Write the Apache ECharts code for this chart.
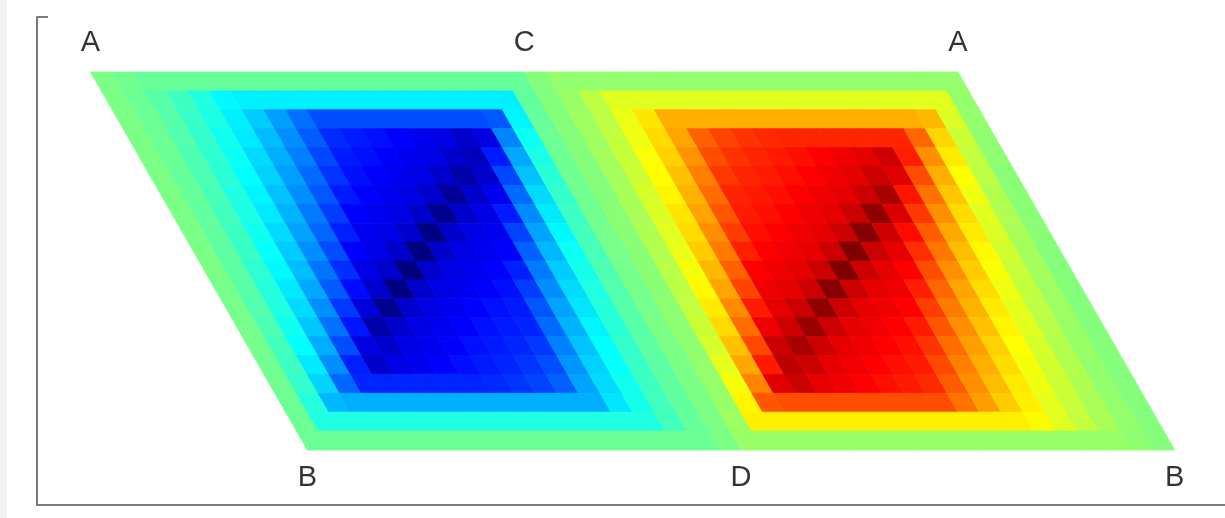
<!DOCTYPE html>
<html>
<head>
<meta charset="utf-8">
<script src="https://cdn.jsdelivr.net/npm/echarts@6/dist/echarts.min.js"></script>
<style>
html,body{margin:0;padding:0;background:#fff;}
#chart{width:1225px;height:518px;}
</style>
</head>
<body>
<div id="chart"></div>
<script>
// lattice cells per rhombus side (u along top edge, v along slanted edge)
const cellsPerSide = 20;
// vertex labels
const topLabels = ['A', 'C', 'A'];
const bottomLabels = ['B', 'D', 'B'];
// left rhombus values, rows = v index (top to bottom), cols = u index (left to right)
const leftValues = [
[-0.01,-0.03,-0.05,-0.05,-0.05,-0.05,-0.05,-0.05,-0.05,-0.05,-0.05,-0.05,-0.05,-0.05,-0.05,-0.05,-0.05,-0.05,-0.05,-0.05],
[-0.01,-0.04,-0.08,-0.13,-0.19,-0.26,-0.28,-0.28,-0.28,-0.28,-0.28,-0.28,-0.28,-0.28,-0.28,-0.28,-0.28,-0.28,-0.28,-0.06],
[-0.01,-0.04,-0.08,-0.14,-0.20,-0.28,-0.35,-0.44,-0.53,-0.60,-0.60,-0.60,-0.60,-0.60,-0.60,-0.60,-0.60,-0.58,-0.27,-0.05],
[-0.01,-0.04,-0.09,-0.15,-0.22,-0.29,-0.38,-0.47,-0.57,-0.67,-0.70,-0.72,-0.75,-0.78,-0.80,-0.85,-0.81,-0.49,-0.23,-0.04],
[-0.01,-0.04,-0.10,-0.16,-0.23,-0.32,-0.41,-0.50,-0.61,-0.70,-0.72,-0.75,-0.78,-0.80,-0.85,-0.88,-0.70,-0.42,-0.20,-0.04],
[-0.01,-0.05,-0.10,-0.17,-0.25,-0.34,-0.44,-0.54,-0.65,-0.72,-0.75,-0.78,-0.80,-0.85,-0.92,-0.85,-0.61,-0.37,-0.17,-0.03],
[-0.01,-0.05,-0.11,-0.19,-0.27,-0.37,-0.47,-0.58,-0.70,-0.75,-0.78,-0.80,-0.85,-0.95,-0.85,-0.78,-0.54,-0.32,-0.15,-0.03],
[-0.01,-0.06,-0.12,-0.20,-0.29,-0.40,-0.51,-0.63,-0.75,-0.78,-0.80,-0.85,-0.97,-0.85,-0.80,-0.70,-0.48,-0.29,-0.13,-0.03],
[-0.01,-0.06,-0.13,-0.22,-0.32,-0.43,-0.55,-0.69,-0.78,-0.80,-0.85,-0.99,-0.85,-0.80,-0.78,-0.62,-0.43,-0.26,-0.12,-0.02],
[-0.01,-0.07,-0.14,-0.24,-0.35,-0.47,-0.60,-0.75,-0.80,-0.85,-1.00,-0.85,-0.80,-0.78,-0.75,-0.56,-0.39,-0.23,-0.11,-0.02],
[-0.01,-0.07,-0.16,-0.26,-0.38,-0.52,-0.66,-0.80,-0.85,-1.00,-0.85,-0.80,-0.78,-0.75,-0.69,-0.51,-0.35,-0.21,-0.10,-0.02],
[-0.02,-0.08,-0.18,-0.29,-0.42,-0.57,-0.73,-0.85,-0.99,-0.85,-0.80,-0.78,-0.75,-0.72,-0.63,-0.47,-0.32,-0.19,-0.09,-0.02],
[-0.02,-0.09,-0.19,-0.32,-0.47,-0.64,-0.82,-0.97,-0.85,-0.80,-0.78,-0.75,-0.72,-0.70,-0.58,-0.43,-0.30,-0.18,-0.08,-0.02],
[-0.02,-0.10,-0.22,-0.36,-0.53,-0.71,-0.92,-0.85,-0.80,-0.78,-0.75,-0.72,-0.70,-0.68,-0.54,-0.40,-0.27,-0.17,-0.08,-0.01],
[-0.02,-0.12,-0.25,-0.41,-0.60,-0.81,-0.85,-0.80,-0.78,-0.75,-0.72,-0.70,-0.68,-0.64,-0.50,-0.37,-0.25,-0.15,-0.07,-0.01],
[-0.03,-0.13,-0.29,-0.47,-0.69,-0.85,-0.80,-0.78,-0.75,-0.72,-0.70,-0.68,-0.65,-0.60,-0.46,-0.34,-0.24,-0.14,-0.07,-0.01],
[-0.03,-0.15,-0.33,-0.55,-0.68,-0.68,-0.68,-0.68,-0.68,-0.68,-0.67,-0.65,-0.62,-0.56,-0.43,-0.32,-0.22,-0.13,-0.06,-0.01],
[-0.04,-0.18,-0.39,-0.41,-0.41,-0.41,-0.41,-0.41,-0.41,-0.41,-0.41,-0.41,-0.41,-0.41,-0.41,-0.30,-0.21,-0.12,-0.06,-0.01],
[-0.04,-0.19,-0.19,-0.19,-0.19,-0.19,-0.19,-0.19,-0.19,-0.19,-0.19,-0.19,-0.19,-0.19,-0.19,-0.19,-0.19,-0.12,-0.05,-0.01],
[-0.04,-0.04,-0.04,-0.04,-0.04,-0.04,-0.04,-0.04,-0.04,-0.04,-0.04,-0.04,-0.04,-0.04,-0.04,-0.04,-0.04,-0.04,-0.04,-0.01]
];
// right rhombus values
const rightValues = [
[0.01,0.04,0.04,0.04,0.04,0.04,0.04,0.04,0.04,0.04,0.04,0.04,0.04,0.04,0.04,0.04,0.04,0.04,0.04,0.04],
[0.01,0.05,0.12,0.19,0.19,0.19,0.19,0.19,0.19,0.19,0.19,0.19,0.19,0.19,0.19,0.19,0.19,0.19,0.19,0.04],
[0.01,0.06,0.12,0.21,0.30,0.41,0.41,0.41,0.41,0.41,0.41,0.41,0.41,0.41,0.41,0.41,0.41,0.39,0.18,0.04],
[0.01,0.06,0.13,0.22,0.32,0.43,0.56,0.62,0.65,0.67,0.68,0.68,0.68,0.68,0.68,0.68,0.55,0.33,0.15,0.03],
[0.01,0.07,0.14,0.24,0.34,0.46,0.60,0.65,0.68,0.70,0.72,0.75,0.78,0.80,0.85,0.69,0.47,0.29,0.13,0.03],
[0.01,0.07,0.15,0.25,0.37,0.50,0.64,0.68,0.70,0.72,0.75,0.78,0.80,0.85,0.81,0.60,0.41,0.25,0.12,0.02],
[0.01,0.08,0.17,0.27,0.40,0.54,0.68,0.70,0.72,0.75,0.78,0.80,0.85,0.92,0.71,0.53,0.36,0.22,0.10,0.02],
[0.02,0.08,0.18,0.30,0.43,0.58,0.70,0.72,0.75,0.78,0.80,0.85,0.97,0.82,0.64,0.47,0.32,0.19,0.09,0.02],
[0.02,0.09,0.19,0.32,0.47,0.63,0.72,0.75,0.78,0.80,0.85,0.99,0.85,0.73,0.57,0.42,0.29,0.18,0.08,0.02],
[0.02,0.10,0.21,0.35,0.51,0.69,0.75,0.78,0.80,0.85,1.00,0.85,0.80,0.66,0.52,0.38,0.26,0.16,0.07,0.01],
[0.02,0.11,0.23,0.39,0.56,0.75,0.78,0.80,0.85,1.00,0.85,0.80,0.75,0.60,0.47,0.35,0.24,0.14,0.07,0.01],
[0.02,0.12,0.26,0.43,0.62,0.78,0.80,0.85,0.99,0.85,0.80,0.78,0.69,0.55,0.43,0.32,0.22,0.13,0.06,0.01],
[0.03,0.13,0.29,0.48,0.70,0.80,0.85,0.97,0.85,0.80,0.78,0.75,0.63,0.51,0.40,0.29,0.20,0.12,0.06,0.01],
[0.03,0.15,0.32,0.54,0.78,0.85,0.95,0.85,0.80,0.78,0.75,0.70,0.58,0.47,0.37,0.27,0.19,0.11,0.05,0.01],
[0.03,0.17,0.37,0.61,0.85,0.92,0.85,0.80,0.78,0.75,0.72,0.65,0.54,0.44,0.34,0.25,0.17,0.10,0.05,0.01],
[0.04,0.20,0.42,0.70,0.88,0.85,0.80,0.78,0.75,0.72,0.70,0.61,0.50,0.41,0.32,0.23,0.16,0.10,0.04,0.01],
[0.04,0.23,0.49,0.81,0.85,0.80,0.78,0.75,0.72,0.70,0.67,0.57,0.47,0.38,0.29,0.22,0.15,0.09,0.04,0.01],
[0.05,0.27,0.58,0.60,0.60,0.60,0.60,0.60,0.60,0.60,0.60,0.53,0.44,0.35,0.28,0.20,0.14,0.08,0.04,0.01],
[0.06,0.28,0.28,0.28,0.28,0.28,0.28,0.28,0.28,0.28,0.28,0.28,0.28,0.28,0.26,0.19,0.13,0.08,0.04,0.01],
[0.05,0.05,0.05,0.05,0.05,0.05,0.05,0.05,0.05,0.05,0.05,0.05,0.05,0.05,0.05,0.05,0.05,0.05,0.03,0.01]
];
// jet colormap stops
const jetColors = ['#000080','#0000ff','#0080ff','#00ffff','#80ff80','#ffff00','#ff8000','#ff0000','#800000'];

// build cells: [xCenter, yCenter, value, uIndex, vIndex] in skewed lattice coordinates
const cells = [];
[leftValues, rightValues].forEach(function (block, b) {
  block.forEach(function (row, j) {
    row.forEach(function (val, i) {
      const ui = i + b * cellsPerSide;
      const u = (ui + 0.5) / cellsPerSide, v = (j + 0.5) / cellsPerSide;
      cells.push([u + 0.5 * v, v, val, ui, j]);
    });
  });
});
const labelData = [];
topLabels.forEach(function (t, k) { labelData.push({ name: t, value: [k, 0], label: { offset: [0, -29] } }); });
bottomLabels.forEach(function (t, k) { labelData.push({ name: t, value: [k + 0.5, 1], label: { offset: [0, 28] } }); });

function renderCell(params, api) {
  const ui = api.value(3), vj = api.value(4);
  const u0 = ui / cellsPerSide, u1 = (ui + 1) / cellsPerSide;
  const v0 = vj / cellsPerSide, v1 = (vj + 1) / cellsPerSide;
  const P = function (u, v) { return api.coord([u + 0.5 * v, v]); };
  const color = api.visual('color');
  return {
    type: 'polygon',
    shape: { points: [P(u0, v0), P(u1, v0), P(u1, v1), P(u0, v1)] },
    style: { fill: color, stroke: color, lineWidth: 0.8 }
  };
}

const chart = echarts.init(document.getElementById('chart'), null, { renderer: 'canvas' });
chart.setOption({
  animation: false,
  backgroundColor: '#ffffff',
  graphic: [{ type: 'rect', left: 0, top: 0, shape: { width: 7, height: 518 }, style: { fill: '#f1f1f1' }, z: -1 }],
  grid: { left: 37, right: 0, top: 17, bottom: 13 },
  xAxis: {
    type: 'value', min: -0.1234, max: 2.6159,
    axisLine: { show: true, onZero: false, lineStyle: { color: '#7a7a7a', width: 2 } },
    axisTick: { show: false }, axisLabel: { show: false }, splitLine: { show: false }
  },
  yAxis: {
    type: 'value', min: -0.1455, max: 1.1455, inverse: true,
    axisLine: { show: true, onZero: false, lineStyle: { color: '#7a7a7a', width: 2 } },
    axisTick: { show: true, inside: true, length: 11, customValues: [-0.1455], lineStyle: { color: '#7a7a7a', width: 2 } },
    axisLabel: { show: false }, splitLine: { show: false }
  },
  visualMap: {
    show: false, type: 'continuous', min: -1, max: 1, dimension: 2, seriesIndex: 0,
    inRange: { color: jetColors }
  },
  series: [
    {
      type: 'custom', renderItem: renderCell, data: cells,
      encode: { x: 0, y: 1 }, silent: true
    },
    {
      type: 'scatter', data: labelData, symbolSize: 0, silent: true,
      label: {
        show: true, position: 'inside', formatter: '{b}',
        fontFamily: 'Liberation Sans, Arial, sans-serif', fontSize: 29, color: '#000000'
      }
    }
  ]
});
</script>
</body>
</html>
